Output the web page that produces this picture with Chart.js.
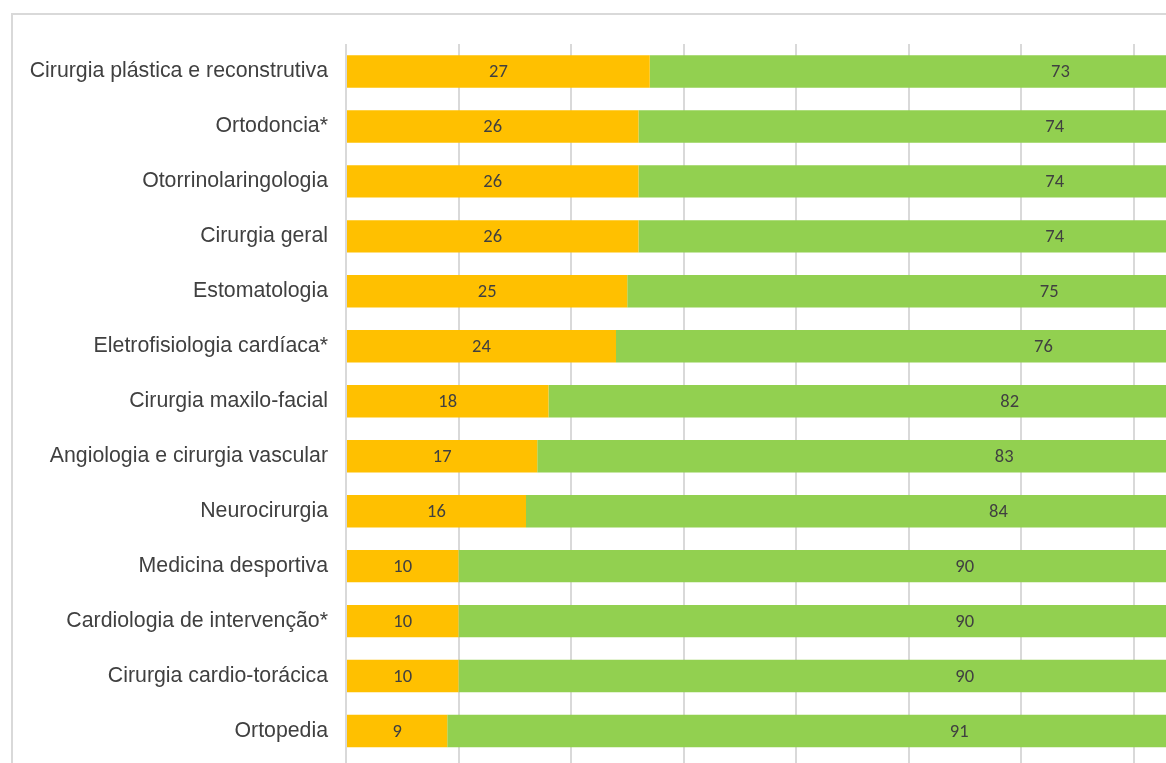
<!DOCTYPE html>
<html>
<head>
<meta charset="utf-8">
<script src="https://cdn.jsdelivr.net/npm/chart.js@4"></script>
<style>
  html, body { margin: 0; padding: 0; background: #fff; overflow: hidden; width: 1166px; height: 763px; }
  #frame { position: absolute; left: 11px; top: 13px; width: 2000px; height: 2000px; border: 2px solid #d9d9d9; }
  #myChart { position: absolute; left: 0; top: 0; }
</style>
</head>
<body>
<div id="frame"></div>
<canvas id="myChart" width="1480" height="830"></canvas>
<script>
// specialties, top to bottom
const categories = [
    'Cirurgia plástica e reconstrutiva',
    'Ortodoncia*',
    'Otorrinolaringologia',
    'Cirurgia geral',
    'Estomatologia',
    'Eletrofisiologia cardíaca*',
    'Cirurgia maxilo-facial',
    'Angiologia e cirurgia vascular',
    'Neurocirurgia',
    'Medicina desportiva',
    'Cardiologia de intervenção*',
    'Cirurgia cardio-torácica',
    'Ortopedia'
];
const orangeValues = [27, 26, 26, 26, 25, 24, 18, 17, 16, 10, 10, 10, 9];
const greenValues = [73, 74, 74, 74, 75, 76, 82, 83, 84, 90, 90, 90, 91];

// write the value in the middle of every bar piece
const barLabels = {
    id: 'barLabels',
    afterDatasetsDraw(chart) {
        const ctx = chart.ctx;
        ctx.save();
        ctx.font = '18.5px Carlito, Lato, sans-serif';
        ctx.fillStyle = '#404040';
        ctx.textAlign = 'center';
        ctx.textBaseline = 'middle';
        chart.data.datasets.forEach((ds, i) => {
            const meta = chart.getDatasetMeta(i);
            meta.data.forEach((bar, j) => {
                const cx = (bar.x + bar.base) / 2;
                ctx.fillText(String(ds.data[j]), cx, bar.y + 1);
            });
        });
        ctx.restore();
    }
};

const ctx_ = document.getElementById('myChart').getContext('2d');
const myChart = new Chart(ctx_, {
    type: 'bar',
    data: {
        labels: categories,
        datasets: [{
            data: orangeValues,
            backgroundColor: '#FFC000',
            borderWidth: 0,
            barPercentage: 0.59,
            categoryPercentage: 1
        }, {
            data: greenValues,
            backgroundColor: '#92D050',
            borderWidth: 0,
            barPercentage: 0.59,
            categoryPercentage: 1
        }]
    },
    options: {
        indexAxis: 'y',
        responsive: false,
        animation: false,
        layout: { padding: { top: 44, right: 9, left: 0, bottom: 0 } },
        plugins: {
            legend: { display: false },
            tooltip: { enabled: false }
        },
        scales: {
            x: {
                stacked: true,
                min: 0,
                max: 100,
                ticks: { display: false, stepSize: 10 },
                grid: { color: '#d9d9d9', lineWidth: 2, drawTicks: true, tickLength: 10 },
                border: { display: false },
                afterFit(scale) { scale.height = 71.5; }
            },
            y: {
                stacked: true,
                grid: { display: false, drawTicks: false },
                border: { display: false },
                ticks: {
                    autoSkip: false,
                    padding: 18,
                    color: '#404040',
                    font: { family: '"Liberation Sans", Arial, sans-serif', size: 21.3 }
                },
                afterFit(scale) { scale.width = 346; }
            }
        }
    },
    plugins: [barLabels]
});
</script>
</body>
</html>
